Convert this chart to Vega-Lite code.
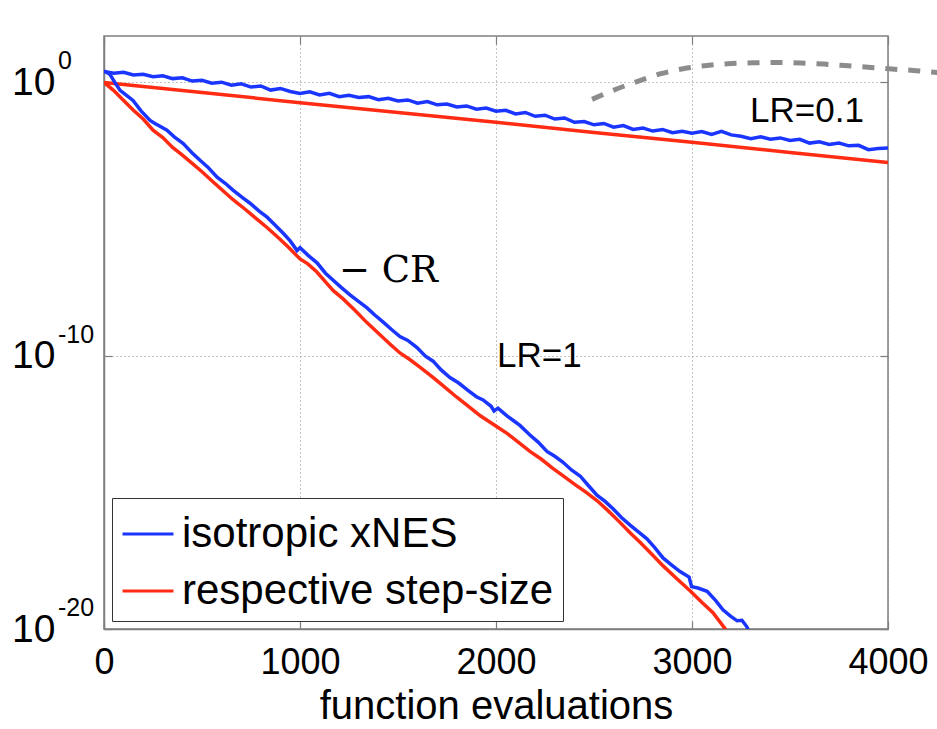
{
  "$schema": "https://vega.github.io/schema/vega-lite/v6.json",
  "width": 784,
  "height": 593,
  "autosize": "none",
  "padding": {"left": 104, "top": 36, "right": 49, "bottom": 100},
  "background": "white",
  "config": {
    "font": "Liberation Sans",
    "view": {"stroke": "#7f7f7f", "strokeWidth": 1.5},
    "legend": {
      "orient": "bottom-left",
      "offset": 8,
      "fillColor": "white",
      "strokeColor": "#333333",
      "padding": 9,
      "cornerRadius": 0,
      "symbolType": "stroke",
      "symbolSize": 2600,
      "symbolStrokeWidth": 3,
      "labelFontSize": 42,
      "labelFont": "Liberation Sans",
      "labelColor": "black",
      "labelLimit": 600,
      "rowPadding": 9,
      "labelOffset": 7
    }
  },
  "datasets": {
    "curves": [
      {"x": 0, "y": 1.0, "method": "respective step-size", "lr": "0.1"},
      {"x": 500, "y": 0.4266, "method": "respective step-size", "lr": "0.1"},
      {"x": 1000, "y": 0.182, "method": "respective step-size", "lr": "0.1"},
      {"x": 1500, "y": 0.07943, "method": "respective step-size", "lr": "0.1"},
      {"x": 2000, "y": 0.03467, "method": "respective step-size", "lr": "0.1"},
      {"x": 2500, "y": 0.01479, "method": "respective step-size", "lr": "0.1"},
      {"x": 3000, "y": 0.006457, "method": "respective step-size", "lr": "0.1"},
      {"x": 3500, "y": 0.002754, "method": "respective step-size", "lr": "0.1"},
      {"x": 4000, "y": 0.001175, "method": "respective step-size", "lr": "0.1"},

      {"x": 0, "y": 1.0, "method": "respective step-size", "lr": "1"},
      {"x": 50, "y": 0.5012, "method": "respective step-size", "lr": "1"},
      {"x": 100, "y": 0.2188, "method": "respective step-size", "lr": "1"},
      {"x": 150, "y": 0.0955, "method": "respective step-size", "lr": "1"},
      {"x": 200, "y": 0.04571, "method": "respective step-size", "lr": "1"},
      {"x": 250, "y": 0.01778, "method": "respective step-size", "lr": "1"},
      {"x": 300, "y": 0.00955, "method": "respective step-size", "lr": "1"},
      {"x": 350, "y": 0.004169, "method": "respective step-size", "lr": "1"},
      {"x": 400, "y": 0.002188, "method": "respective step-size", "lr": "1"},
      {"x": 450, "y": 0.001096, "method": "respective step-size", "lr": "1"},
      {"x": 500, "y": 5.37e-4, "method": "respective step-size", "lr": "1"},
      {"x": 550, "y": 2.512e-4, "method": "respective step-size", "lr": "1"},
      {"x": 600, "y": 1.202e-4, "method": "respective step-size", "lr": "1"},
      {"x": 660, "y": 5.012e-5, "method": "respective step-size", "lr": "1"},
      {"x": 720, "y": 2.291e-5, "method": "respective step-size", "lr": "1"},
      {"x": 780, "y": 1.0e-5, "method": "respective step-size", "lr": "1"},
      {"x": 830, "y": 5.012e-6, "method": "respective step-size", "lr": "1"},
      {"x": 880, "y": 2.399e-6, "method": "respective step-size", "lr": "1"},
      {"x": 940, "y": 9.55e-7, "method": "respective step-size", "lr": "1"},
      {"x": 1000, "y": 3.467e-7, "method": "respective step-size", "lr": "1"},
      {"x": 1040, "y": 2.291e-7, "method": "respective step-size", "lr": "1"},
      {"x": 1085, "y": 1.175e-7, "method": "respective step-size", "lr": "1"},
      {"x": 1130, "y": 5.012e-8, "method": "respective step-size", "lr": "1"},
      {"x": 1170, "y": 2.399e-8, "method": "respective step-size", "lr": "1"},
      {"x": 1220, "y": 1.202e-8, "method": "respective step-size", "lr": "1"},
      {"x": 1280, "y": 4.571e-9, "method": "respective step-size", "lr": "1"},
      {"x": 1340, "y": 1.66e-9, "method": "respective step-size", "lr": "1"},
      {"x": 1400, "y": 6.607e-10, "method": "respective step-size", "lr": "1"},
      {"x": 1460, "y": 2.63e-10, "method": "respective step-size", "lr": "1"},
      {"x": 1510, "y": 1.259e-10, "method": "respective step-size", "lr": "1"},
      {"x": 1560, "y": 7.244e-11, "method": "respective step-size", "lr": "1"},
      {"x": 1620, "y": 3.467e-11, "method": "respective step-size", "lr": "1"},
      {"x": 1680, "y": 1.585e-11, "method": "respective step-size", "lr": "1"},
      {"x": 1740, "y": 6.918e-12, "method": "respective step-size", "lr": "1"},
      {"x": 1800, "y": 3.02e-12, "method": "respective step-size", "lr": "1"},
      {"x": 1850, "y": 1.585e-12, "method": "respective step-size", "lr": "1"},
      {"x": 1920, "y": 6.31e-13, "method": "respective step-size", "lr": "1"},
      {"x": 2005, "y": 2.512e-13, "method": "respective step-size", "lr": "1"},
      {"x": 2060, "y": 1.38e-13, "method": "respective step-size", "lr": "1"},
      {"x": 2120, "y": 6.31e-14, "method": "respective step-size", "lr": "1"},
      {"x": 2173, "y": 3.162e-14, "method": "respective step-size", "lr": "1"},
      {"x": 2230, "y": 1.66e-14, "method": "respective step-size", "lr": "1"},
      {"x": 2290, "y": 7.586e-15, "method": "respective step-size", "lr": "1"},
      {"x": 2343, "y": 3.981e-15, "method": "respective step-size", "lr": "1"},
      {"x": 2400, "y": 1.995e-15, "method": "respective step-size", "lr": "1"},
      {"x": 2460, "y": 1.0e-15, "method": "respective step-size", "lr": "1"},
      {"x": 2515, "y": 5.012e-16, "method": "respective step-size", "lr": "1"},
      {"x": 2570, "y": 2.188e-16, "method": "respective step-size", "lr": "1"},
      {"x": 2630, "y": 8.318e-17, "method": "respective step-size", "lr": "1"},
      {"x": 2684, "y": 3.311e-17, "method": "respective step-size", "lr": "1"},
      {"x": 2740, "y": 1.38e-17, "method": "respective step-size", "lr": "1"},
      {"x": 2800, "y": 5.012e-18, "method": "respective step-size", "lr": "1"},
      {"x": 2854, "y": 1.995e-18, "method": "respective step-size", "lr": "1"},
      {"x": 2920, "y": 7.244e-19, "method": "respective step-size", "lr": "1"},
      {"x": 2990, "y": 2.512e-19, "method": "respective step-size", "lr": "1"},
      {"x": 3050, "y": 9.55e-20, "method": "respective step-size", "lr": "1"},
      {"x": 3107, "y": 3.981e-20, "method": "respective step-size", "lr": "1"},
      {"x": 3170, "y": 1.0e-20, "method": "respective step-size", "lr": "1"},
      {"x": 3210, "y": 3.162e-21, "method": "respective step-size", "lr": "1"},

      {"x": 0, "y": 2.512, "method": "isotropic xNES", "lr": "0.1"},
      {"x": 50, "y": 2.188, "method": "isotropic xNES", "lr": "0.1"},
      {"x": 100, "y": 2.344, "method": "isotropic xNES", "lr": "0.1"},
      {"x": 150, "y": 1.862, "method": "isotropic xNES", "lr": "0.1"},
      {"x": 200, "y": 1.995, "method": "isotropic xNES", "lr": "0.1"},
      {"x": 250, "y": 1.622, "method": "isotropic xNES", "lr": "0.1"},
      {"x": 300, "y": 1.738, "method": "isotropic xNES", "lr": "0.1"},
      {"x": 350, "y": 1.38, "method": "isotropic xNES", "lr": "0.1"},
      {"x": 400, "y": 1.479, "method": "isotropic xNES", "lr": "0.1"},
      {"x": 450, "y": 1.122, "method": "isotropic xNES", "lr": "0.1"},
      {"x": 500, "y": 1.202, "method": "isotropic xNES", "lr": "0.1"},
      {"x": 550, "y": 0.9333, "method": "isotropic xNES", "lr": "0.1"},
      {"x": 600, "y": 1.023, "method": "isotropic xNES", "lr": "0.1"},
      {"x": 650, "y": 0.7943, "method": "isotropic xNES", "lr": "0.1"},
      {"x": 700, "y": 0.8913, "method": "isotropic xNES", "lr": "0.1"},
      {"x": 750, "y": 0.6761, "method": "isotropic xNES", "lr": "0.1"},
      {"x": 800, "y": 0.7413, "method": "isotropic xNES", "lr": "0.1"},
      {"x": 850, "y": 0.5248, "method": "isotropic xNES", "lr": "0.1"},
      {"x": 900, "y": 0.6026, "method": "isotropic xNES", "lr": "0.1"},
      {"x": 950, "y": 0.4677, "method": "isotropic xNES", "lr": "0.1"},
      {"x": 1000, "y": 0.3981, "method": "isotropic xNES", "lr": "0.1"},
      {"x": 1050, "y": 0.4571, "method": "isotropic xNES", "lr": "0.1"},
      {"x": 1100, "y": 0.3467, "method": "isotropic xNES", "lr": "0.1"},
      {"x": 1150, "y": 0.3981, "method": "isotropic xNES", "lr": "0.1"},
      {"x": 1200, "y": 0.302, "method": "isotropic xNES", "lr": "0.1"},
      {"x": 1250, "y": 0.3388, "method": "isotropic xNES", "lr": "0.1"},
      {"x": 1300, "y": 0.2818, "method": "isotropic xNES", "lr": "0.1"},
      {"x": 1350, "y": 0.302, "method": "isotropic xNES", "lr": "0.1"},
      {"x": 1400, "y": 0.2344, "method": "isotropic xNES", "lr": "0.1"},
      {"x": 1450, "y": 0.263, "method": "isotropic xNES", "lr": "0.1"},
      {"x": 1500, "y": 0.2089, "method": "isotropic xNES", "lr": "0.1"},
      {"x": 1550, "y": 0.2291, "method": "isotropic xNES", "lr": "0.1"},
      {"x": 1600, "y": 0.1738, "method": "isotropic xNES", "lr": "0.1"},
      {"x": 1650, "y": 0.1995, "method": "isotropic xNES", "lr": "0.1"},
      {"x": 1700, "y": 0.1514, "method": "isotropic xNES", "lr": "0.1"},
      {"x": 1750, "y": 0.1622, "method": "isotropic xNES", "lr": "0.1"},
      {"x": 1800, "y": 0.1259, "method": "isotropic xNES", "lr": "0.1"},
      {"x": 1850, "y": 0.138, "method": "isotropic xNES", "lr": "0.1"},
      {"x": 1900, "y": 0.1047, "method": "isotropic xNES", "lr": "0.1"},
      {"x": 1950, "y": 0.1148, "method": "isotropic xNES", "lr": "0.1"},
      {"x": 2000, "y": 0.08913, "method": "isotropic xNES", "lr": "0.1"},
      {"x": 2050, "y": 0.0955, "method": "isotropic xNES", "lr": "0.1"},
      {"x": 2100, "y": 0.07079, "method": "isotropic xNES", "lr": "0.1"},
      {"x": 2150, "y": 0.07943, "method": "isotropic xNES", "lr": "0.1"},
      {"x": 2200, "y": 0.05754, "method": "isotropic xNES", "lr": "0.1"},
      {"x": 2250, "y": 0.0631, "method": "isotropic xNES", "lr": "0.1"},
      {"x": 2300, "y": 0.04571, "method": "isotropic xNES", "lr": "0.1"},
      {"x": 2350, "y": 0.05012, "method": "isotropic xNES", "lr": "0.1"},
      {"x": 2400, "y": 0.03467, "method": "isotropic xNES", "lr": "0.1"},
      {"x": 2450, "y": 0.03715, "method": "isotropic xNES", "lr": "0.1"},
      {"x": 2500, "y": 0.02818, "method": "isotropic xNES", "lr": "0.1"},
      {"x": 2550, "y": 0.03162, "method": "isotropic xNES", "lr": "0.1"},
      {"x": 2600, "y": 0.02291, "method": "isotropic xNES", "lr": "0.1"},
      {"x": 2650, "y": 0.0263, "method": "isotropic xNES", "lr": "0.1"},
      {"x": 2700, "y": 0.01905, "method": "isotropic xNES", "lr": "0.1"},
      {"x": 2750, "y": 0.02138, "method": "isotropic xNES", "lr": "0.1"},
      {"x": 2800, "y": 0.0166, "method": "isotropic xNES", "lr": "0.1"},
      {"x": 2850, "y": 0.01905, "method": "isotropic xNES", "lr": "0.1"},
      {"x": 2900, "y": 0.01445, "method": "isotropic xNES", "lr": "0.1"},
      {"x": 2950, "y": 0.01622, "method": "isotropic xNES", "lr": "0.1"},
      {"x": 3000, "y": 0.0138, "method": "isotropic xNES", "lr": "0.1"},
      {"x": 3050, "y": 0.01585, "method": "isotropic xNES", "lr": "0.1"},
      {"x": 3100, "y": 0.01259, "method": "isotropic xNES", "lr": "0.1"},
      {"x": 3150, "y": 0.01622, "method": "isotropic xNES", "lr": "0.1"},
      {"x": 3200, "y": 0.01202, "method": "isotropic xNES", "lr": "0.1"},
      {"x": 3250, "y": 0.01072, "method": "isotropic xNES", "lr": "0.1"},
      {"x": 3300, "y": 0.00871, "method": "isotropic xNES", "lr": "0.1"},
      {"x": 3350, "y": 0.01023, "method": "isotropic xNES", "lr": "0.1"},
      {"x": 3400, "y": 0.008318, "method": "isotropic xNES", "lr": "0.1"},
      {"x": 3450, "y": 0.009333, "method": "isotropic xNES", "lr": "0.1"},
      {"x": 3500, "y": 0.007586, "method": "isotropic xNES", "lr": "0.1"},
      {"x": 3550, "y": 0.008318, "method": "isotropic xNES", "lr": "0.1"},
      {"x": 3600, "y": 0.006026, "method": "isotropic xNES", "lr": "0.1"},
      {"x": 3650, "y": 0.006761, "method": "isotropic xNES", "lr": "0.1"},
      {"x": 3700, "y": 0.00537, "method": "isotropic xNES", "lr": "0.1"},
      {"x": 3750, "y": 0.006026, "method": "isotropic xNES", "lr": "0.1"},
      {"x": 3800, "y": 0.004786, "method": "isotropic xNES", "lr": "0.1"},
      {"x": 3850, "y": 0.005012, "method": "isotropic xNES", "lr": "0.1"},
      {"x": 3900, "y": 0.003467, "method": "isotropic xNES", "lr": "0.1"},
      {"x": 3950, "y": 0.003802, "method": "isotropic xNES", "lr": "0.1"},
      {"x": 4000, "y": 0.003981, "method": "isotropic xNES", "lr": "0.1"},

      {"x": 0, "y": 2.63, "method": "isotropic xNES", "lr": "1"},
      {"x": 30, "y": 1.995, "method": "isotropic xNES", "lr": "1"},
      {"x": 60, "y": 0.8913, "method": "isotropic xNES", "lr": "1"},
      {"x": 82, "y": 0.5129, "method": "isotropic xNES", "lr": "1"},
      {"x": 110, "y": 0.3548, "method": "isotropic xNES", "lr": "1"},
      {"x": 148, "y": 0.2188, "method": "isotropic xNES", "lr": "1"},
      {"x": 190, "y": 0.08913, "method": "isotropic xNES", "lr": "1"},
      {"x": 235, "y": 0.04074, "method": "isotropic xNES", "lr": "1"},
      {"x": 260, "y": 0.03162, "method": "isotropic xNES", "lr": "1"},
      {"x": 290, "y": 0.02399, "method": "isotropic xNES", "lr": "1"},
      {"x": 321, "y": 0.01778, "method": "isotropic xNES", "lr": "1"},
      {"x": 360, "y": 0.01, "method": "isotropic xNES", "lr": "1"},
      {"x": 403, "y": 0.005888, "method": "isotropic xNES", "lr": "1"},
      {"x": 450, "y": 0.00263, "method": "isotropic xNES", "lr": "1"},
      {"x": 490, "y": 0.001413, "method": "isotropic xNES", "lr": "1"},
      {"x": 530, "y": 7.943e-4, "method": "isotropic xNES", "lr": "1"},
      {"x": 577, "y": 3.388e-4, "method": "isotropic xNES", "lr": "1"},
      {"x": 620, "y": 1.995e-4, "method": "isotropic xNES", "lr": "1"},
      {"x": 658, "y": 1.148e-4, "method": "isotropic xNES", "lr": "1"},
      {"x": 700, "y": 6.607e-5, "method": "isotropic xNES", "lr": "1"},
      {"x": 745, "y": 3.802e-5, "method": "isotropic xNES", "lr": "1"},
      {"x": 790, "y": 1.995e-5, "method": "isotropic xNES", "lr": "1"},
      {"x": 832, "y": 1.175e-5, "method": "isotropic xNES", "lr": "1"},
      {"x": 870, "y": 6.31e-6, "method": "isotropic xNES", "lr": "1"},
      {"x": 913, "y": 3.09e-6, "method": "isotropic xNES", "lr": "1"},
      {"x": 950, "y": 1.585e-6, "method": "isotropic xNES", "lr": "1"},
      {"x": 985, "y": 7.079e-7, "method": "isotropic xNES", "lr": "1"},
      {"x": 1000, "y": 8.913e-7, "method": "isotropic xNES", "lr": "1"},
      {"x": 1040, "y": 4.786e-7, "method": "isotropic xNES", "lr": "1"},
      {"x": 1087, "y": 2.512e-7, "method": "isotropic xNES", "lr": "1"},
      {"x": 1130, "y": 1.047e-7, "method": "isotropic xNES", "lr": "1"},
      {"x": 1168, "y": 5.888e-8, "method": "isotropic xNES", "lr": "1"},
      {"x": 1210, "y": 3.162e-8, "method": "isotropic xNES", "lr": "1"},
      {"x": 1255, "y": 1.698e-8, "method": "isotropic xNES", "lr": "1"},
      {"x": 1300, "y": 9.55e-9, "method": "isotropic xNES", "lr": "1"},
      {"x": 1342, "y": 5.623e-9, "method": "isotropic xNES", "lr": "1"},
      {"x": 1380, "y": 3.162e-9, "method": "isotropic xNES", "lr": "1"},
      {"x": 1423, "y": 1.738e-9, "method": "isotropic xNES", "lr": "1"},
      {"x": 1470, "y": 8.71e-10, "method": "isotropic xNES", "lr": "1"},
      {"x": 1510, "y": 5.012e-10, "method": "isotropic xNES", "lr": "1"},
      {"x": 1550, "y": 3.631e-10, "method": "isotropic xNES", "lr": "1"},
      {"x": 1597, "y": 1.995e-10, "method": "isotropic xNES", "lr": "1"},
      {"x": 1640, "y": 9.55e-11, "method": "isotropic xNES", "lr": "1"},
      {"x": 1679, "y": 6.31e-11, "method": "isotropic xNES", "lr": "1"},
      {"x": 1720, "y": 3.02e-11, "method": "isotropic xNES", "lr": "1"},
      {"x": 1765, "y": 1.585e-11, "method": "isotropic xNES", "lr": "1"},
      {"x": 1810, "y": 1.0e-11, "method": "isotropic xNES", "lr": "1"},
      {"x": 1852, "y": 5.754e-12, "method": "isotropic xNES", "lr": "1"},
      {"x": 1900, "y": 3.162e-12, "method": "isotropic xNES", "lr": "1"},
      {"x": 1934, "y": 2.399e-12, "method": "isotropic xNES", "lr": "1"},
      {"x": 1975, "y": 1.413e-12, "method": "isotropic xNES", "lr": "1"},
      {"x": 1990, "y": 9.55e-13, "method": "isotropic xNES", "lr": "1"},
      {"x": 2010, "y": 1.202e-12, "method": "isotropic xNES", "lr": "1"},
      {"x": 2056, "y": 6.31e-13, "method": "isotropic xNES", "lr": "1"},
      {"x": 2090, "y": 4.169e-13, "method": "isotropic xNES", "lr": "1"},
      {"x": 2122, "y": 2.818e-13, "method": "isotropic xNES", "lr": "1"},
      {"x": 2173, "y": 1.259e-13, "method": "isotropic xNES", "lr": "1"},
      {"x": 2215, "y": 6.918e-14, "method": "isotropic xNES", "lr": "1"},
      {"x": 2260, "y": 3.162e-14, "method": "isotropic xNES", "lr": "1"},
      {"x": 2300, "y": 2.089e-14, "method": "isotropic xNES", "lr": "1"},
      {"x": 2342, "y": 1.259e-14, "method": "isotropic xNES", "lr": "1"},
      {"x": 2385, "y": 6.607e-15, "method": "isotropic xNES", "lr": "1"},
      {"x": 2429, "y": 3.981e-15, "method": "isotropic xNES", "lr": "1"},
      {"x": 2470, "y": 1.82e-15, "method": "isotropic xNES", "lr": "1"},
      {"x": 2515, "y": 7.943e-16, "method": "isotropic xNES", "lr": "1"},
      {"x": 2555, "y": 4.786e-16, "method": "isotropic xNES", "lr": "1"},
      {"x": 2597, "y": 2.512e-16, "method": "isotropic xNES", "lr": "1"},
      {"x": 2640, "y": 1.202e-16, "method": "isotropic xNES", "lr": "1"},
      {"x": 2684, "y": 6.31e-17, "method": "isotropic xNES", "lr": "1"},
      {"x": 2725, "y": 3.631e-17, "method": "isotropic xNES", "lr": "1"},
      {"x": 2770, "y": 1.995e-17, "method": "isotropic xNES", "lr": "1"},
      {"x": 2810, "y": 9.55e-18, "method": "isotropic xNES", "lr": "1"},
      {"x": 2852, "y": 3.981e-18, "method": "isotropic xNES", "lr": "1"},
      {"x": 2895, "y": 2.239e-18, "method": "isotropic xNES", "lr": "1"},
      {"x": 2939, "y": 1.259e-18, "method": "isotropic xNES", "lr": "1"},
      {"x": 2985, "y": 7.943e-19, "method": "isotropic xNES", "lr": "1"},
      {"x": 2998, "y": 3.548e-19, "method": "isotropic xNES", "lr": "1"},
      {"x": 3030, "y": 3.162e-19, "method": "isotropic xNES", "lr": "1"},
      {"x": 3077, "y": 2.399e-19, "method": "isotropic xNES", "lr": "1"},
      {"x": 3120, "y": 1.122e-19, "method": "isotropic xNES", "lr": "1"},
      {"x": 3158, "y": 5.012e-20, "method": "isotropic xNES", "lr": "1"},
      {"x": 3195, "y": 3.02e-20, "method": "isotropic xNES", "lr": "1"},
      {"x": 3230, "y": 1.995e-20, "method": "isotropic xNES", "lr": "1"},
      {"x": 3255, "y": 2.089e-20, "method": "isotropic xNES", "lr": "1"},
      {"x": 3280, "y": 1.202e-20, "method": "isotropic xNES", "lr": "1"},
      {"x": 3310, "y": 3.981e-21, "method": "isotropic xNES", "lr": "1"}
    ],
    "arc": [
      {"x": 2490, "y": 0.2399},
      {"x": 2612, "y": 0.5623},
      {"x": 2730, "y": 1.148},
      {"x": 2842, "y": 2.089},
      {"x": 2954, "y": 3.162},
      {"x": 3077, "y": 4.169},
      {"x": 3199, "y": 4.898},
      {"x": 3316, "y": 5.248},
      {"x": 3439, "y": 5.37},
      {"x": 3556, "y": 5.129},
      {"x": 3673, "y": 4.677},
      {"x": 3796, "y": 4.074},
      {"x": 3913, "y": 3.548},
      {"x": 4020, "y": 3.09},
      {"x": 4143, "y": 2.692},
      {"x": 4250, "y": 2.291},
      {"x": 4350, "y": 1.95}
    ],
    "decades": [
      {"v": 1, "e": "0"},
      {"v": 1e-10, "e": "-10"},
      {"v": 1e-20, "e": "-20"}
    ],
    "rates": [
      {"x": 3296, "y": 0.03467, "label": "LR=0.1"},
      {"x": 2005, "y": 3.981e-11, "label": "LR=1"}
    ],
    "rate": [
      {"x": 1199, "y": 5.012e-8, "label": "− CR"}
    ]
  },
  "layer": [
    {
      "data": {"name": "curves"},
      "mark": {"type": "line", "strokeWidth": 3.5, "clip": true},
      "encoding": {
        "x": {
          "field": "x", "type": "quantitative",
          "scale": {"domain": [0, 4000], "nice": false, "zero": false},
          "axis": {
            "values": [0, 1000, 2000, 3000, 4000],
            "format": "d",
            "labelFontSize": 36, "labelFont": "Liberation Sans", "labelColor": "black",
            "labelPadding": 24, "labelFlush": false, "labelOverlap": false,
            "tickSize": -8, "tickColor": "#7f7f7f", "tickWidth": 1.2,
            "domainColor": "#7f7f7f", "domainWidth": 1.5,
            "grid": true, "gridDash": [1, 3], "gridColor": "#8a8a8a", "gridWidth": 1,
            "title": "function evaluations",
            "titleFontSize": 40, "titleFont": "Liberation Sans", "titleFontWeight": "normal",
            "titleColor": "black", "titlePadding": 6
          }
        },
        "y": {
          "field": "y", "type": "quantitative",
          "scale": {"type": "log", "domain": [1e-20, 50], "nice": false},
          "axis": {
            "values": [1, 1e-10, 1e-20],
            "labelExpr": "'10'",
            "labelFontSize": 39, "labelFont": "Liberation Sans", "labelColor": "black",
            "labelPadding": 57, "labelOverlap": false, "labelFlush": false,
            "tickSize": -8, "tickColor": "#7f7f7f", "tickWidth": 1.2,
            "domainColor": "#7f7f7f", "domainWidth": 1.5,
            "grid": true, "gridDash": [1, 3], "gridColor": "#8a8a8a", "gridWidth": 1,
            "title": null
          }
        },
        "color": {
          "field": "method", "type": "nominal",
          "scale": {"domain": ["isotropic xNES", "respective step-size"], "range": ["#1a35ff", "#ff2b12"]},
          "legend": {"title": null}
        },
        "detail": {"field": "lr"}
      }
    },
    {
      "data": {"name": "arc"},
      "mark": {"type": "line", "clip": false, "interpolate": "monotone", "color": "#8c8c8c", "strokeWidth": 5, "strokeDash": [12, 11]},
      "encoding": {
        "x": {
          "field": "x", "type": "quantitative",
          "axis": {"orient": "top", "values": [0, 1000, 2000, 3000, 4000], "labels": false, "grid": false, "domain": false, "tickSize": -8, "tickColor": "#7f7f7f", "tickWidth": 1.2, "title": null}
        },
        "y": {
          "field": "y", "type": "quantitative",
          "axis": {"orient": "right", "values": [1, 1e-10, 1e-20], "labels": false, "grid": false, "domain": false, "tickSize": -8, "tickColor": "#7f7f7f", "tickWidth": 1.2, "title": null}
        }
      }
    },
    {
      "data": {"name": "decades"},
      "mark": {"type": "text", "align": "left", "baseline": "alphabetic", "dx": -46, "dy": -13, "fontSize": 25, "font": "Liberation Sans", "color": "black"},
      "encoding": {
        "x": {"datum": 0, "type": "quantitative", "axis": null},
        "y": {"field": "v", "type": "quantitative", "axis": null},
        "text": {"field": "e"}
      }
    },
    {
      "data": {"name": "rates"},
      "mark": {"type": "text", "align": "left", "baseline": "alphabetic", "fontSize": 35, "font": "Liberation Sans", "color": "black"},
      "encoding": {
        "x": {"field": "x", "type": "quantitative", "axis": null},
        "y": {"field": "y", "type": "quantitative", "axis": null},
        "text": {"field": "label"}
      }
    },
    {
      "data": {"name": "rate"},
      "mark": {"type": "text", "align": "left", "baseline": "alphabetic", "fontSize": 37, "font": "DejaVu Serif", "color": "black"},
      "encoding": {
        "x": {"field": "x", "type": "quantitative", "axis": null},
        "y": {"field": "y", "type": "quantitative", "axis": null},
        "text": {"field": "label"}
      }
    }
  ],
  "resolve": {"axis": {"x": "independent", "y": "independent"}}
}
